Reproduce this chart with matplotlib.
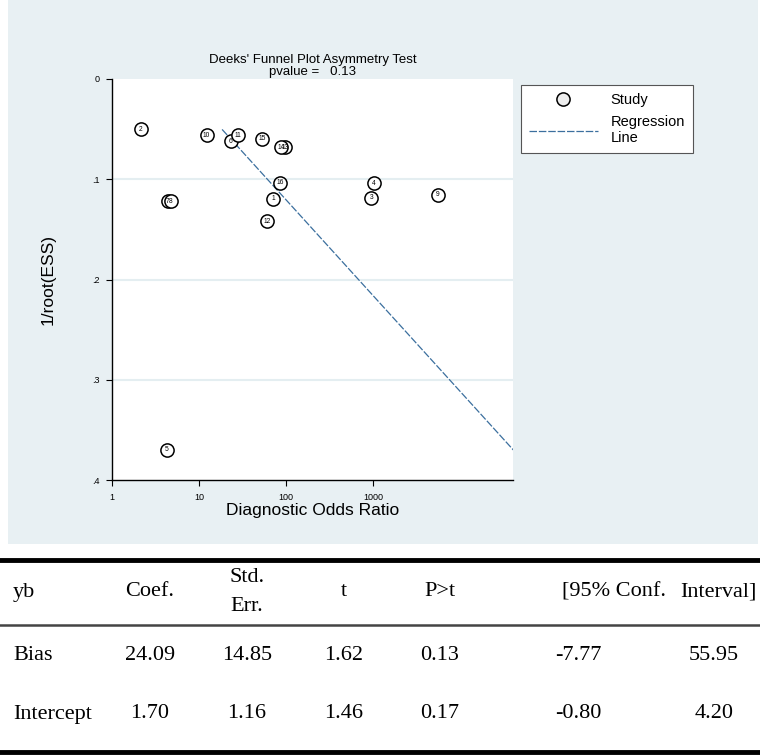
import numpy as np
import matplotlib
matplotlib.use("Agg")
import matplotlib.pyplot as plt
from matplotlib.patches import Rectangle
from matplotlib.lines import Line2D

# study data
study_id = [1, 2, 3, 4, 5, 6, 7, 8, 9, 10, 11, 12, 13, 14, 15, 16]
dor = [71.6, 2.14, 952, 1021, 4.25, 23.1, 4.36, 4.72, 5550, 12.2, 27.8, 60, 96.5, 86.9, 53, 86]
inv_root_ess = [0.1197, 0.0503, 0.1183, 0.104, 0.370, 0.062, 0.122, 0.122, 0.1157,
                0.0563, 0.0563, 0.142, 0.0683, 0.0683, 0.0597, 0.1037]

# regression results
coef_bias = 24.09
coef_intercept = 1.70
pvalue = 0.13

col_headers = ["yb", "Coef.", "Std.\nErr.", "t", "P>t", "[95% Conf.", "Interval]"]
row_bias = ["Bias", "24.09", "14.85", "1.62", "0.13", "-7.77", "55.95"]
row_intercept = ["Intercept", "1.70", "1.16", "1.46", "0.17", "-0.80", "4.20"]

W, H = 760, 755
bg = "#e8f0f3"
narrow = ["Liberation Sans Narrow", "Liberation Sans", "DejaVu Sans"]
sans = ["Liberation Sans", "DejaVu Sans"]
serif = ["Liberation Serif", "DejaVu Serif"]

fig = plt.figure(figsize=(W / 100, H / 100), dpi=100, facecolor="white")

def fx(px):
    return px / W

def fy(py):
    return 1 - py / H

# light panel behind the graph
fig.patches.append(Rectangle((fx(8), fy(544)), fx(750), 544 / H, transform=fig.transFigure,
                             facecolor=bg, edgecolor="none", zorder=-5))

ax = fig.add_axes([fx(112), fy(480), fx(513.3) - fx(112), fy(79) - fy(480)])
ax.set_zorder(2)
ax.set_facecolor("white")

y_line = np.linspace(min(inv_root_ess), max(inv_root_ess), 50)
x_line = np.exp(coef_intercept + coef_bias * y_line)

ax.set_xscale("log")
ax.set_xlim(1, x_line.max())
ax.set_ylim(0.4, 0)

for v in [0.1, 0.2, 0.3]:
    ax.axhline(v, color="#e4eef1", lw=1.5, zorder=0)

ax.plot(x_line, y_line, color="#3b6f9e", lw=0.9, dashes=(6, 1.5), zorder=2, label="Regression\nLine")
ax.plot(dor, inv_root_ess, ls="none", marker="o", ms=9.5, mfc="white", mec="black", mew=1.1,
        zorder=3, label="Study")
for sid, x, y in zip(study_id, dor, inv_root_ess):
    ax.text(x, y, str(sid), fontsize=4.8, ha="center", va="center", zorder=4, family=sans)

ax.set_xticks([1, 10, 100, 1000])
ax.set_xticklabels(["1", "10", "100", "1000"])
ax.xaxis.set_minor_locator(matplotlib.ticker.NullLocator())
ax.set_yticks([0, 0.1, 0.2, 0.3, 0.4])
ax.set_yticklabels(["0", ".1", ".2", ".3", ".4"])
ax.tick_params(labelsize=6.5, length=4, width=0.8, color="black", pad=5)
for lab in ax.get_xticklabels() + ax.get_yticklabels():
    lab.set_family(sans)

for s in ["top", "right"]:
    ax.spines[s].set_visible(False)
for s in ["left", "bottom"]:
    ax.spines[s].set_linewidth(1.0)

ax.set_xlabel("Diagnostic Odds Ratio", fontsize=12.5, family=sans, labelpad=1)
ax.set_ylabel("1/root(ESS)", fontsize=12.5, family=sans, labelpad=26)
ax.set_title("Deeks' Funnel Plot Asymmetry Test\npvalue =   {:.2f}".format(pvalue),
             fontsize=9.5, family=narrow, pad=3, linespacing=1.0)

handles, labels = ax.get_legend_handles_labels()
leg = ax.legend(handles[::-1], labels[::-1], loc="upper left",
                bbox_to_anchor=(fx(521), fy(85)), bbox_transform=fig.transFigure,
                fancybox=False, edgecolor="#555555", facecolor="white", framealpha=1,
                prop={"family": sans, "size": 10.5}, handlelength=4.7, handletextpad=0.9,
                borderpad=0.55, labelspacing=0.55, borderaxespad=0)
leg.get_frame().set_linewidth(0.8)
for h in leg.legend_handles:
    if isinstance(h, Line2D) and h.get_marker() == "o":
        h.set_markerfacecolor("#eeeeee")

# regression table
col_x = [13, 150, 247, 344, 440, 614, 757]
col_ha = ["left", "center", "center", "center", "center", "center", "right"]
val_x = [13, 150, 247, 344, 440, 578, 714]
val_ha = ["left", "center", "center", "center", "center", "center", "center"]

fig.add_artist(Line2D([0, 1], [fy(560), fy(560)], color="black", lw=3.5))
fig.add_artist(Line2D([0, 1], [fy(625), fy(625)], color="#444444", lw=1.8))
fig.add_artist(Line2D([0, 1], [fy(752), fy(752)], color="black", lw=3.5))

for txt, x, ha in zip(col_headers, col_x, col_ha):
    fig.text(fx(x), fy(592), txt, ha=ha, va="center", fontsize=16, family=serif, linespacing=1.7)
for row, yy in [(row_bias, 656), (row_intercept, 714)]:
    for txt, x, ha in zip(row, val_x, val_ha):
        fig.text(fx(x), fy(yy), txt, ha=ha, va="center", fontsize=16, family=serif)

fig.savefig("out.png", dpi=100, facecolor="white")
